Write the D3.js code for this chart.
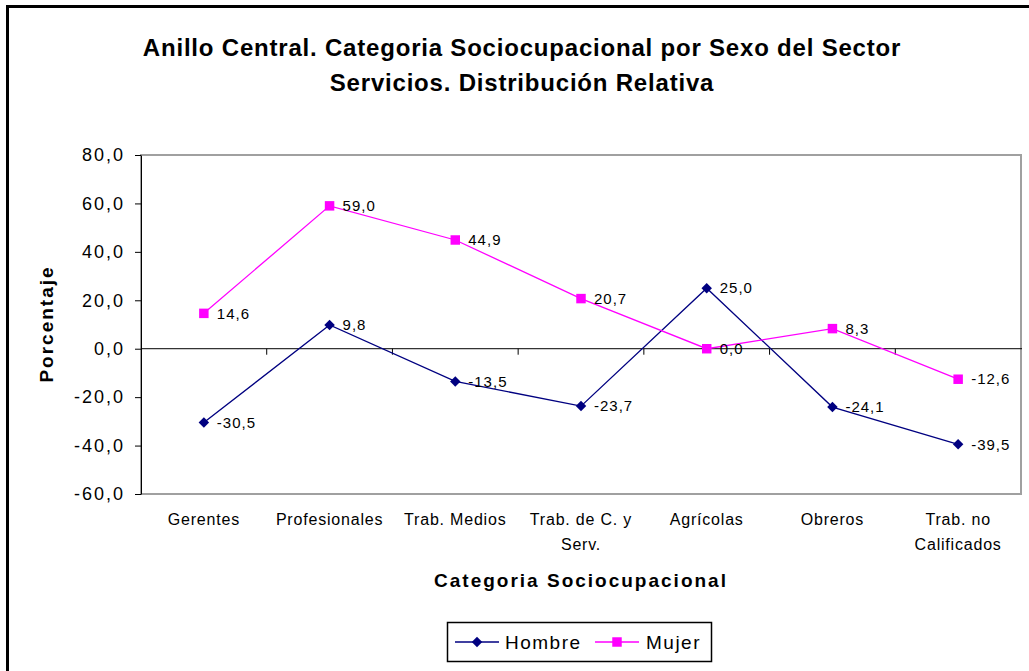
<!DOCTYPE html>
<html lang="es">
<head>
<meta charset="UTF-8">
<title>Anillo Central</title>
<script src="https://d3js.org/d3.v7.min.js"></script>
<style>
  body { margin: 0; background: #fff; }
  svg text { font-family: "Liberation Sans", Arial, sans-serif; fill: #000; }
</style>
</head>
<body>
<svg width="1029" height="671"></svg>
<script>

// chart data
const categorias = ["Gerentes", "Profesionales", "Trab. Medios", "Trab. de C. y|Serv.", "Agrícolas", "Obreros", "Trab. no|Calificados"];
const hombre = [-30.5, 9.8, -13.5, -23.7, 25.0, -24.1, -39.5];
const mujer = [14.6, 59.0, 44.9, 20.7, 0.0, 8.3, -12.6];
const yTicks = [80, 60, 40, 20, 0, -20, -40, -60];

const series = [
    { name: "Hombre", values: hombre, color: "#000080", marker: "diamond" },
    { name: "Mujer", values: mujer, color: "#FF00FF", marker: "square" }
];

const svg = d3.select("svg");
// comma decimal, plain hyphen for negatives
const fmt = v => v.toFixed(1).replace(".", ",");

// outer frame (only top and left visible in the picture)
svg.append("rect")
    .attr("x", 7.5).attr("y", 6.5)
    .attr("width", 1040).attr("height", 700)
    .attr("fill", "none").attr("stroke", "#000").attr("stroke-width", 3);

const plot = { left: 141, top: 155, right: 1021, bottom: 494 };

const x = d3.scaleBand().domain(categorias).range([plot.left, plot.right]);
const y = d3.scaleLinear().domain([-60, 80]).range([plot.bottom, plot.top]);

// plot area border
svg.append("rect")
    .attr("x", plot.left).attr("y", plot.top)
    .attr("width", plot.right - plot.left).attr("height", plot.bottom - plot.top)
    .attr("fill", "none").attr("stroke", "#a0a0a0").attr("stroke-width", 2);

// y axis
const yAxis = svg.append("g")
    .attr("transform", `translate(${plot.left},0)`)
    .call(d3.axisLeft(y).tickValues(yTicks).tickSize(6).tickSizeOuter(0).tickPadding(10).tickFormat(fmt));
yAxis.select(".domain").attr("stroke", "#000");
yAxis.selectAll("text").style("font-size", "18px").attr("letter-spacing", "2px");

// x axis on the zero line
const xAxis = svg.append("g")
    .attr("transform", `translate(0,${y(0)})`)
    .call(d3.axisBottom(x).tickValues(categorias.slice(1)).tickSize(6).tickSizeOuter(0).tickFormat(""));
xAxis.selectAll(".tick").attr("transform", d => `translate(${x(d)},0)`);
xAxis.select(".domain").attr("d", `M${plot.left},0H${plot.right + 1}`).attr("stroke", "#000");

// category labels under the plot
const catLabels = svg.append("g");
categorias.forEach(c => {
    const cx = x(c) + x.bandwidth() / 2;
    const t = catLabels.append("text")
        .attr("x", cx)
        .attr("y", 525)
        .attr("text-anchor", "middle")
        .attr("letter-spacing", "0.8px")
        .style("font-size", "16px");
    c.split("|").forEach((line, i) => {
        t.append("tspan").attr("x", cx).attr("dy", i === 0 ? 0 : 25).text(line);
    });
});

// lines, markers, labels
const line = d3.line()
    .x((d, i) => x(categorias[i]) + x.bandwidth() / 2)
    .y(d => y(d));

const diamond = d3.symbol().type(d3.symbolDiamond2).size(70);
const square = d3.symbol().type(d3.symbolSquare).size(90);

series.forEach(s => {
    svg.append("path")
        .datum(s.values)
        .attr("d", line)
        .attr("fill", "none")
        .attr("stroke", s.color)
        .attr("stroke-width", 1.3);

    svg.append("g").selectAll("path")
        .data(s.values)
        .join("path")
        .attr("transform", (d, i) => `translate(${x(categorias[i]) + x.bandwidth() / 2},${y(d)})`)
        .attr("d", s.marker === "diamond" ? diamond : square)
        .attr("fill", s.color);

    svg.append("g").selectAll("text")
        .data(s.values)
        .join("text")
        .attr("x", (d, i) => x(categorias[i]) + x.bandwidth() / 2 + 13)
        .attr("y", d => y(d))
        .attr("dy", "0.35em")
        .attr("letter-spacing", "1px")
        .style("font-size", "15px")
        .text(fmt);
});

// title
const title = svg.append("text")
    .attr("x", 522)
    .attr("text-anchor", "middle")
    .attr("letter-spacing", "0.8px")
    .style("font-size", "24px")
    .style("font-weight", "bold");
title.append("tspan").attr("x", 522).attr("y", 56).text("Anillo Central. Categoria Sociocupacional por Sexo del Sector");
title.append("tspan").attr("x", 522).attr("y", 91).text("Servicios. Distribución Relativa");

// axis titles
svg.append("text")
    .attr("transform", "translate(53,324) rotate(-90)")
    .attr("text-anchor", "middle")
    .style("font-size", "19px")
    .style("font-weight", "bold")
    .attr("letter-spacing", "2px")
    .text("Porcentaje");

svg.append("text")
    .attr("x", 581).attr("y", 587)
    .attr("text-anchor", "middle")
    .style("font-size", "19px")
    .style("font-weight", "bold")
    .attr("letter-spacing", "2px")
    .text("Categoria Sociocupacional");

// legend
const legend = svg.append("g");
legend.append("rect")
    .attr("x", 447.5).attr("y", 622.5)
    .attr("width", 264).attr("height", 39)
    .attr("fill", "#fff").attr("stroke", "#000").attr("stroke-width", 1.5);

const legendItems = [
    { s: series[0], x0: 455, tx: 505 },
    { s: series[1], x0: 595, tx: 646 }
];
legendItems.forEach(it => {
    legend.append("line")
        .attr("x1", it.x0).attr("x2", it.x0 + 44)
        .attr("y1", 642).attr("y2", 642)
        .attr("stroke", it.s.color).attr("stroke-width", 1.3);
    legend.append("path")
        .attr("transform", `translate(${it.x0 + 22},642)`)
        .attr("d", it.s.marker === "diamond" ? diamond : square)
        .attr("fill", it.s.color);
    legend.append("text")
        .attr("x", it.tx).attr("y", 642)
        .attr("dy", "0.35em")
        .style("font-size", "19px")
        .attr("letter-spacing", "1.5px")
        .text(it.s.name);
});

</script>
</body>
</html>
